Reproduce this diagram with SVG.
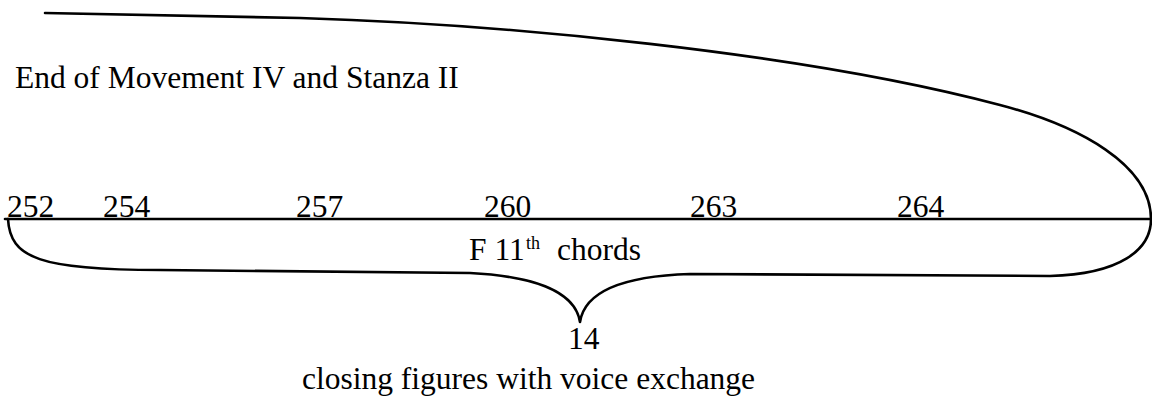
<svg xmlns="http://www.w3.org/2000/svg" width="1152" height="400" viewBox="0 0 1152 400">
  <style>
    .ln { fill: none; stroke: #000; stroke-width: 2.6; stroke-linecap: round; stroke-linejoin: round; }
    .t { font-family: "Liberation Serif", "Times New Roman", serif; font-size: 31.5px; fill: #000; }
    .sup { font-size: 18px; }
  </style>
  <rect width="1152" height="400" fill="#fff"/>
  <g id="connectors">
    <!-- arc spanning the end of the movement -->
    <path class="ln" d="M45,13 L300,18 C500,24 800,52 1000,105 C1080,126 1151,165 1151,219"/>
    <!-- bar-number timeline -->
    <path class="ln" d="M5,219 H1152"/>
    <!-- brace gathering the closing bars -->
    <path class="ln" d="M8,219 C10,258 40,270 160,270 L470,273 C530,276 575,290 580,322 C585,290 625,276 690,274 L1050,276 C1120,274 1151,250 1151,219"/>
  </g>
  <g id="title">
    <text class="t" x="15" y="88">End of Movement IV and Stanza II</text>
  </g>
  <g id="bars">
    <text class="t" x="7" y="217">252</text>
    <text class="t" x="103" y="217">254</text>
    <text class="t" x="296" y="217">257</text>
    <text class="t" x="484" y="217">260</text>
    <text class="t" x="690" y="217">263</text>
    <text class="t" x="897" y="217">264</text>
  </g>
  <g id="chords">
    <text class="t" x="469" y="260">F 11<tspan class="sup" x="526" y="249">th</tspan><tspan x="557" y="260">chords</tspan></text>
  </g>
  <g id="count">
    <text class="t" x="568" y="349">14</text>
  </g>
  <g id="caption">
    <text class="t" x="302" y="389">closing figures with voice exchange</text>
  </g>
</svg>
